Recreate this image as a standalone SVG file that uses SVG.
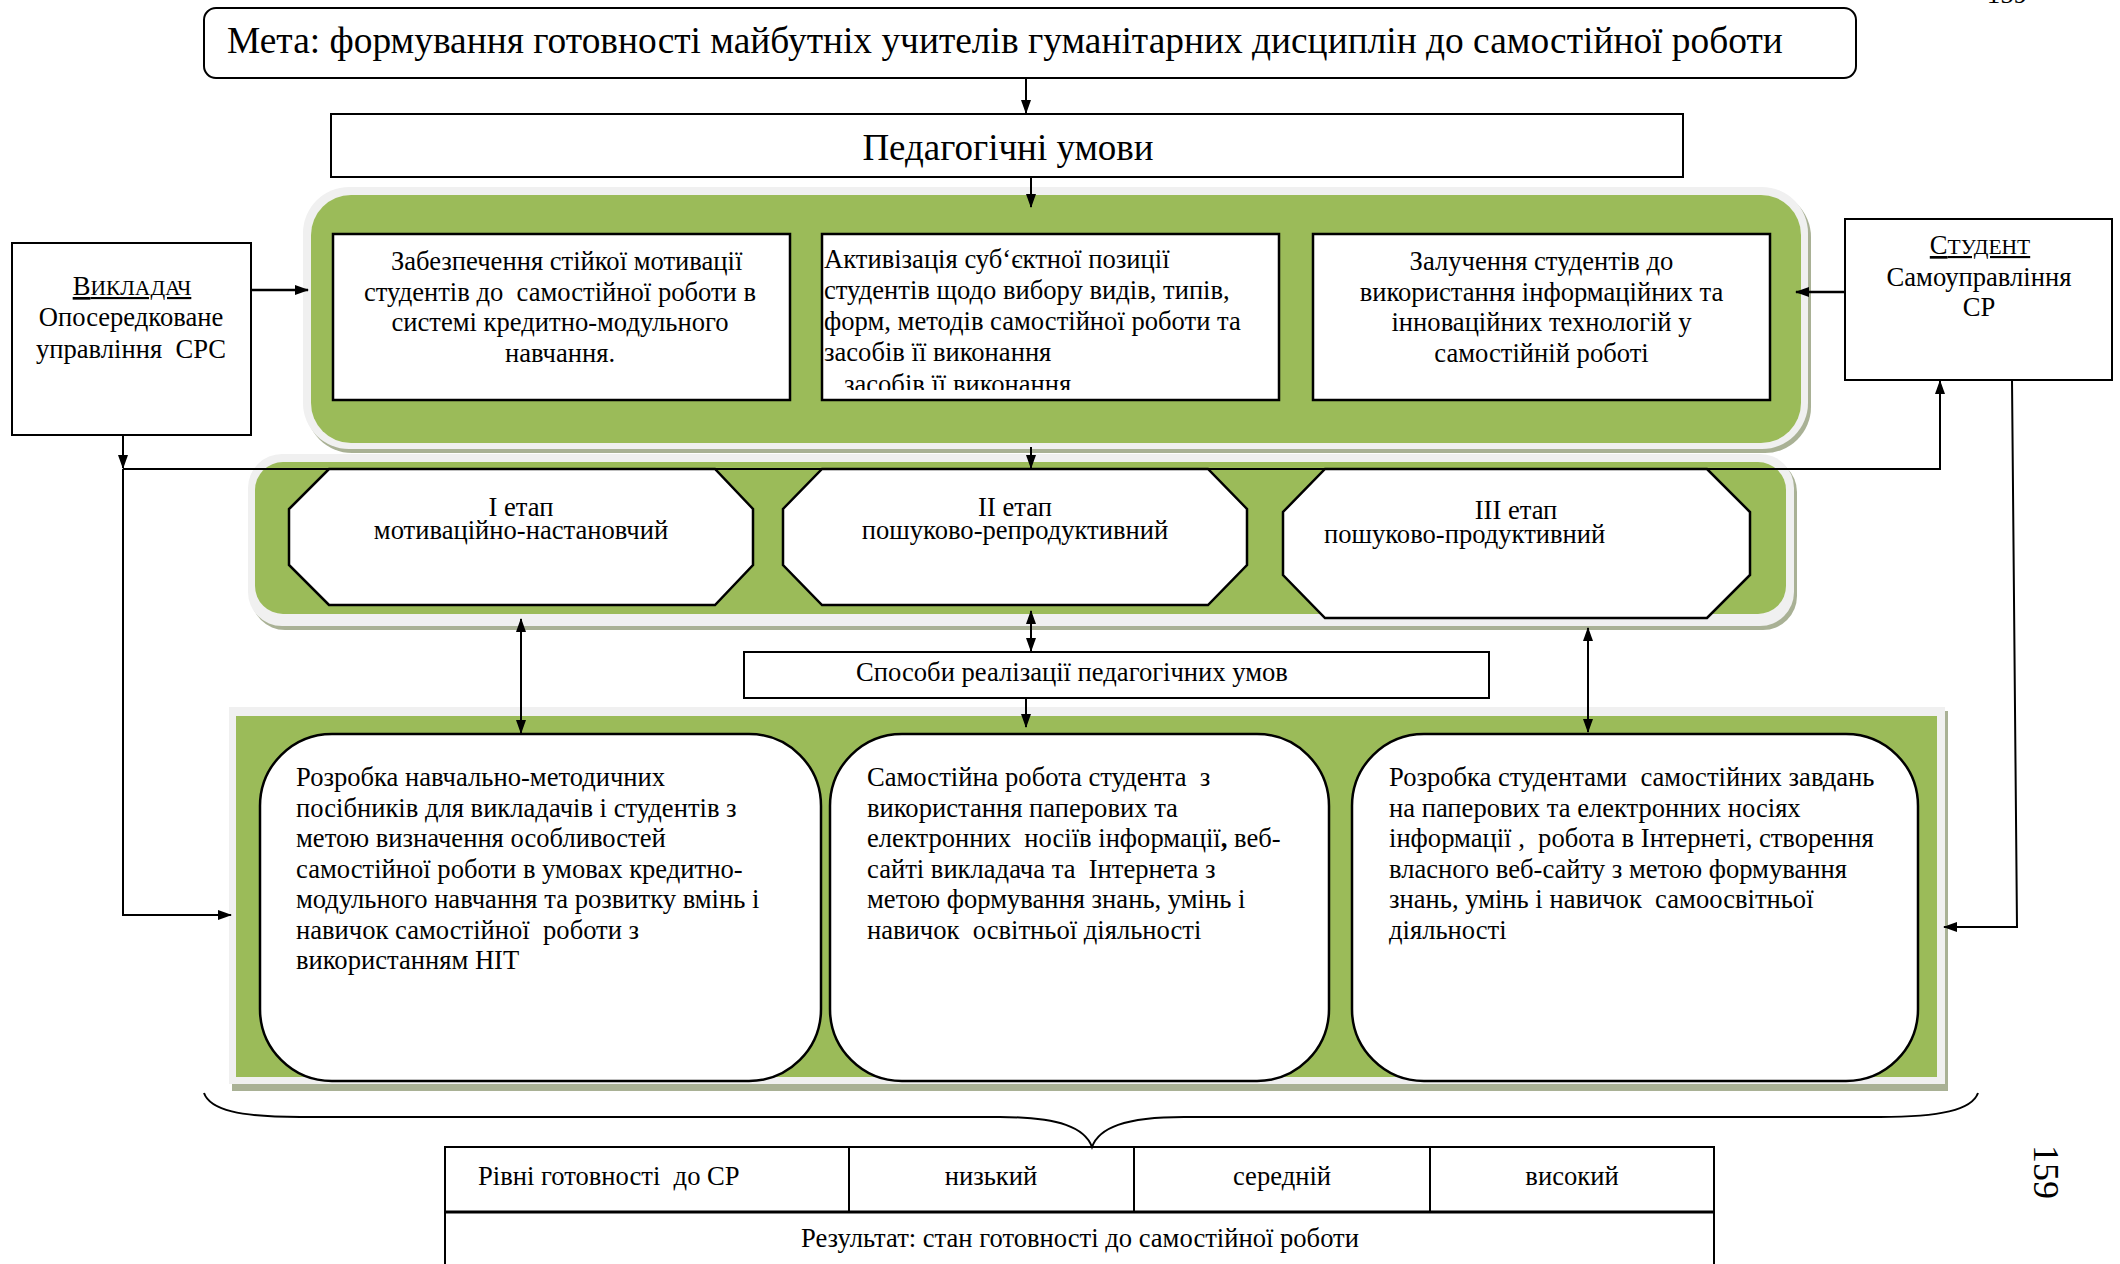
<svg xmlns="http://www.w3.org/2000/svg" width="2120" height="1264" viewBox="0 0 2120 1264" xml:space="preserve">
<style>
text{font-family:"Liberation Serif","Times New Roman","DejaVu Serif",serif;font-size:26.6px;fill:#000;white-space:pre}
.big{font-size:37px}
.sc{font-size:21.5px}
.c{text-anchor:middle}
.box{fill:#fff;stroke:#000;stroke-width:2.5}
.green{fill:#9bbb59}
.halo{fill:#f0f0f0}
.shadow{fill:#a9b195}
.conn{fill:none;stroke:#000;stroke-width:2}
.arr{marker-end:url(#ah)}
.dbl{marker-start:url(#ah);marker-end:url(#ah)}
</style>
<defs>
<marker id="ah" viewBox="0 0 14 10" refX="13" refY="5" markerWidth="14" markerHeight="10" markerUnits="userSpaceOnUse" orient="auto-start-reverse"><path d="M0,0 L14,5 L0,10 z" fill="#000"/></marker>
<clipPath id="clip2"><rect x="823" y="236" width="455" height="154"/></clipPath>
</defs>
<rect width="2120" height="1264" fill="#fff"/>
<text x="2007" y="3" class="c" style="font-size:27px">159</text>
<text transform="translate(2034 1172) rotate(90)" class="c" style="font-size:36px">159</text>

<g id="goal">
<rect x="204" y="8" width="1652" height="70" rx="12" class="box" style="stroke-width:2"/>
<text x="227" y="53" class="big" style="font-size:37.4px">Мета: формування готовності майбутніх учителів гуманітарних дисциплін до самостійної роботи</text>
</g>

<g id="conditions-title">
<rect x="331" y="114" width="1352" height="63" class="box" style="stroke-width:2"/>
<text x="1008" y="160" class="big c">Педагогічні умови</text>
</g>

<g id="teacher">
<rect x="12" y="243" width="239" height="192" class="box" style="stroke-width:2"/>
<text x="132" y="295" class="c" text-decoration="underline"><tspan>В</tspan><tspan class="sc">ИКЛАДАЧ</tspan></text>
<text x="131" y="326" class="c">Опосередковане</text>
<text x="131" y="358" class="c">управління  СРС</text>
</g>

<g id="student">
<rect x="1845" y="219" width="267" height="161" class="box" style="stroke-width:2"/>
<text x="1980" y="254" class="c" text-decoration="underline"><tspan>С</tspan><tspan class="sc">ТУДЕНТ</tspan></text>
<text x="1979" y="286" class="c">Самоуправління</text>
<text x="1979" y="316" class="c">СР</text>
</g>

<g id="conditions-panel">
<rect x="306" y="191" width="1505" height="262" rx="46" class="shadow"/>
<rect x="303" y="187" width="1505" height="262" rx="46" class="halo"/>
<rect x="311" y="195" width="1490" height="248" rx="40" class="green"/>
</g>

<g id="condition-1">
<rect x="333" y="234" width="457" height="166" class="box"/>
<text x="560" y="270" class="c">  Забезпечення стійкої мотивації</text>
<text x="560" y="300.5" class="c">студентів до  самостійної роботи в</text>
<text x="560" y="331" class="c">системі кредитно-модульного</text>
<text x="560" y="361.5" class="c">навчання.</text>
</g>

<g id="condition-2">
<rect x="822" y="234" width="457" height="166" class="box"/>
<text x="824" y="268">Активізація суб‘єктної позиції</text>
<text x="824" y="299">студентів щодо вибору видів, типів,</text>
<text x="824" y="330">форм, методів самостійної роботи та</text>
<text x="824" y="361">засобів її виконання</text>
<text x="824" y="393" clip-path="url(#clip2)">   засобів її виконання</text>
</g>

<g id="condition-3">
<rect x="1313" y="234" width="457" height="166" class="box"/>
<text x="1541.5" y="270" class="c">Залучення студентів до</text>
<text x="1541.5" y="300.5" class="c">використання інформаційних та</text>
<text x="1541.5" y="331" class="c">інноваційних технологій у</text>
<text x="1541.5" y="361.5" class="c">самостійній роботі</text>
</g>

<g id="stages-panel">
<rect x="251" y="458" width="1546" height="172" rx="34" class="shadow"/>
<rect x="248" y="454" width="1546" height="172" rx="34" class="halo"/>
<rect x="255" y="462" width="1531" height="152" rx="28" class="green"/>
</g>

<g id="stage-1">
<polygon points="329,469 715,469 753,509 753,565 715,605 329,605 289,565 289,509" class="box"/>
<text x="521" y="516" class="c">І етап</text>
<text x="521" y="539" class="c">мотиваційно-настановчий</text>
</g>

<g id="stage-2">
<polygon points="822,469 1208,469 1247,509 1247,565 1208,605 822,605 783,565 783,509" class="box"/>
<text x="1015" y="516" class="c">ІІ етап</text>
<text x="1015" y="539" class="c">пошуково-репродуктивний</text>
</g>

<g id="stage-3">
<polygon points="1325,469 1707,469 1750,512 1750,575 1707,618 1325,618 1283,575 1283,512" class="box"/>
<text x="1516" y="519" class="c">ІІІ етап</text>
<text x="1324" y="543">пошуково-продуктивний</text>
</g>

<g id="ways">
<rect x="744" y="652" width="745" height="46" class="box" style="stroke-width:2"/>
<text x="1072" y="681" class="c">Способи реалізації педагогічних умов</text>
</g>

<g id="ways-panel">
<rect x="232" y="711" width="1716" height="380" class="shadow"/>
<rect x="229" y="707" width="1716" height="377" class="halo"/>
<rect x="236" y="716" width="1701" height="361" class="green"/>
</g>

<g id="way-1">
<rect x="260" y="734" width="561" height="347" rx="72" class="box"/>
<text x="296" y="786">Розробка навчально-методичних</text>
<text x="296" y="816.5">посібників для викладачів і студентів з</text>
<text x="296" y="847">метою визначення особливостей</text>
<text x="296" y="877.5">самостійної роботи в умовах кредитно-</text>
<text x="296" y="908">модульного навчання та розвитку вмінь і</text>
<text x="296" y="938.5">навичок самостійної  роботи з</text>
<text x="296" y="969">використанням НІТ</text>
</g>

<g id="way-2">
<rect x="830" y="734" width="499" height="347" rx="72" class="box"/>
<text x="867" y="786">Самостійна робота студента  з</text>
<text x="867" y="816.5">використання паперових та</text>
<text x="867" y="847">електронних  носіїв інформації<tspan font-weight="bold">,</tspan> веб-</text>
<text x="867" y="877.5">сайті викладача та  Інтернета з</text>
<text x="867" y="908">метою формування знань, умінь і</text>
<text x="867" y="938.5">навичок  освітньої діяльності</text>
</g>

<g id="way-3">
<rect x="1352" y="734" width="566" height="347" rx="72" class="box"/>
<text x="1389" y="786">Розробка студентами  самостійних завдань</text>
<text x="1389" y="816.5">на паперових та електронних носіях</text>
<text x="1389" y="847">інформації ,  робота в Інтернеті, створення</text>
<text x="1389" y="877.5">власного веб-сайту з метою формування</text>
<text x="1389" y="908">знань, умінь і навичок  самоосвітньої</text>
<text x="1389" y="938.5">діяльності</text>
</g>

<g id="result">
<rect x="445" y="1147" width="1269" height="120" fill="#fff" stroke="#000" stroke-width="2"/>
<line x1="445" y1="1212" x2="1714" y2="1212" stroke="#000" stroke-width="3"/>
<line x1="849" y1="1147" x2="849" y2="1212" stroke="#000" stroke-width="2"/>
<line x1="1134" y1="1147" x2="1134" y2="1212" stroke="#000" stroke-width="2"/>
<line x1="1430" y1="1147" x2="1430" y2="1212" stroke="#000" stroke-width="2"/>
<text x="478" y="1185">Рівні готовності  до СР</text>
<text x="991" y="1185" class="c">низький</text>
<text x="1282" y="1185" class="c">середній</text>
<text x="1572" y="1185" class="c">високий</text>
<text x="1080" y="1247" class="c">Результат: стан готовності до самостійної роботи</text>
</g>

<g id="connectors">
<path d="M1026 79 V113" class="conn arr"/>
<path d="M1031 178 V207" class="conn arr"/>
<path d="M251 290 H308" class="conn arr" style="stroke-width:2.5"/>
<path d="M1845 292 H1796" class="conn arr" style="stroke-width:2.5"/>
<path d="M123 435 V468" class="conn arr"/>
<path d="M1031 447 V468" class="conn arr"/>
<path d="M123 469 H1940 V381" class="conn arr"/>
<path d="M123 469 V915 H231" class="conn arr"/>
<path d="M2012 380 L2017 927 H1944" class="conn arr"/>
<path d="M521 619 V733" class="conn dbl"/>
<path d="M1031 611 V651" class="conn dbl"/>
<path d="M1026 698 V727" class="conn arr"/>
<path d="M1588 628 V732" class="conn dbl"/>
<path d="M204 1093 C210 1110 240 1117 300 1117 L1000 1117 C1060 1117 1085 1128 1092 1147 C1099 1128 1124 1117 1184 1117 L1880 1117 C1940 1117 1972 1110 1978 1093" class="conn"/>
</g>
</svg>
